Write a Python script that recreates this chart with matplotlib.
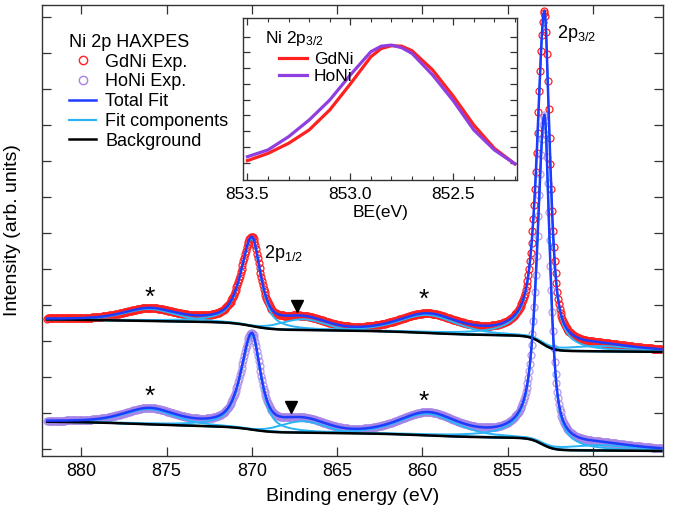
import numpy as np
import matplotlib
matplotlib.use("Agg")
import matplotlib.pyplot as plt
from matplotlib.lines import Line2D
from matplotlib.ticker import MultipleLocator, FormatStrFormatter

plt.rcParams['font.family'] = ['Liberation Sans', 'DejaVu Sans']
plt.rcParams['mathtext.fontset'] = 'custom'
plt.rcParams['mathtext.rm'] = 'Liberation Sans'
plt.rcParams['mathtext.it'] = 'Liberation Sans:italic'

# ---------------- data ----------------
# binding-energy grid of the measured spectra
be_first, be_last, be_step = 846.0, 882.0, 0.05

# fitted peak components
comp_center = [852.85, 859.7, 870.0, 876.0, 867.0, 849.5]
gd_amp = [9.20, 0.50, 2.43, 0.33, 0.30, 0.15]
ho_amp = [9.10, 0.60, 2.63, 0.42, 0.32, 0.15]
comp_whi = [0.50, 2.0, 0.75, 1.8, 1.5, 2.5]   # HWHM on high-BE side
comp_wlo = [0.38, 2.0, 0.60, 1.8, 1.5, 2.5]   # HWHM on low-BE side
comp_eta = [0.72, 0.5, 0.70, 0.5, 0.0, 0.8]   # Lorentzian fraction

# Shirley-like background steps
bg_step_pos = [853.0, 859.7, 870.0, 876.0]
bg_step_w = [0.35, 1.5, 0.6, 2.0]
gd_bg_base, gd_bg_slope = 2.70, 0.004
gd_bg_steps = [0.42, 0.10, 0.20, 0.04]
ho_bg_base, ho_bg_slope = -0.05, 0.003
ho_bg_steps = [0.34, 0.10, 0.15, 0.12]

# inset: normalised Ni 2p3/2 peaks
inset_be = [853.5, 853.4, 853.3, 853.2, 853.1, 853.0, 852.9, 852.85, 852.8,
            852.75, 852.7, 852.6, 852.5, 852.4, 852.3, 852.2]
inset_gd = [0.213, 0.259, 0.323, 0.408, 0.535, 0.700, 0.873, 0.925, 0.943,
            0.940, 0.911, 0.789, 0.623, 0.439, 0.291, 0.192]
inset_ho = [0.238, 0.281, 0.365, 0.471, 0.598, 0.757, 0.905, 0.940, 0.947,
            0.930, 0.894, 0.757, 0.594, 0.408, 0.281, 0.192]

star_be = [876.0, 859.9]
star_gd_y = [4.19, 4.14]
star_ho_y = [1.44, 1.31]
tri_be = [867.36, 867.7]
tri_y = [3.97, 1.18]

# ---------------- model evaluation ----------------
be = np.arange(be_first, be_last + be_step / 2, be_step)


def component(x, c, a, whi, wlo, eta):
    w = np.where(x > c, whi, wlo)
    u = (x - c) / w
    lor = 1.0 / (1.0 + u ** 2)
    gau = np.exp(-np.log(2) * u ** 2)
    return a * (eta * lor + (1 - eta) * gau)


def background(x, base, slope, steps):
    y = base + slope * (x - be_first)
    for p, w, s in zip(bg_step_pos, bg_step_w, steps):
        y = y + s / (1 + np.exp(-(x - p) / w))
    return y


def spectrum(amps, base, slope, steps):
    bg = background(be, base, slope, steps)
    comps = [component(be, c, a, wh, wl, e) for c, a, wh, wl, e in
             zip(comp_center, amps, comp_whi, comp_wlo, comp_eta)]
    total = bg + np.sum(comps, axis=0)
    return bg, comps, total


gd_bg, gd_comps, gd_total = spectrum(gd_amp, gd_bg_base, gd_bg_slope, gd_bg_steps)
ho_bg, ho_comps, ho_total = spectrum(ho_amp, ho_bg_base, ho_bg_slope, ho_bg_steps)

# ---------------- plotting ----------------
RED = '#ff2020'
PURPLE_PT = '#a683e6'
BLUE = '#1d3cff'
LBLUE = '#2ab4f5'
INS_PURPLE = '#8f3fe0'

W, H = 678, 512
fig = plt.figure(figsize=(W / 100, H / 100), dpi=100)
ax = fig.add_axes([42 / W, 1 - 456 / H, (663 - 42) / W, (456 - 5) / H])

ax.plot(be, gd_total, 'o', ms=5, mfc='none', mec=RED, mew=0.9, zorder=2)
ax.plot(be, ho_total, 'o', ms=5, mfc='none', mec=PURPLE_PT, mew=0.9, alpha=0.8, zorder=2)

for bg, comps, total in [(gd_bg, gd_comps, gd_total), (ho_bg, ho_comps, ho_total)]:
    for c in comps:
        ax.plot(be, bg + c, color=LBLUE, lw=1.4, zorder=3)
    ax.plot(be, bg, color='black', lw=1.8, zorder=4)
    ax.plot(be, total, color=BLUE, lw=1.8, zorder=5)

for x, y in zip(star_be, star_gd_y):
    ax.text(x, y, '*', fontsize=19, ha='center', va='center', zorder=6)
for x, y in zip(star_be, star_ho_y):
    ax.text(x, y, '*', fontsize=19, ha='center', va='center', zorder=6)
ax.plot(tri_be, tri_y, 'v', color='black', ms=8, ls='none', zorder=6)

ax.text(869.3, 5.44, '2p$_{1/2}$', fontsize=13, ha='left', va='center')
ax.text(852.1, 11.55, '2p$_{3/2}$', fontsize=13, ha='left', va='center')

ax.set_xlim(882.3, 845.9)
ax.set_ylim(-0.19, 12.33)
ax.set_xticks([880, 875, 870, 865, 860, 855, 850])
ax.set_yticks(np.arange(0, 13, 1))
ax.set_yticklabels([])
ax.tick_params(direction='in', top=True, right=True, length=6.5, width=0.9,
               labelsize=13, pad=5, color='#333333')
for s in ax.spines.values():
    s.set_linewidth(1.0)
    s.set_color('#333333')
ax.set_xlabel('Binding energy (eV)', fontsize=14, labelpad=6)
ax.set_ylabel('Intensity (arb. units)', fontsize=14, labelpad=10)

handles = [Line2D([], [], ls='none', marker='o', ms=6, mfc='none', mec=RED, mew=1.0),
           Line2D([], [], ls='none', marker='o', ms=6, mfc='none', mec=PURPLE_PT, mew=1.0),
           Line2D([], [], color=BLUE, lw=1.8),
           Line2D([], [], color=LBLUE, lw=1.6),
           Line2D([], [], color='black', lw=1.8)]
labels = ['GdNi Exp.', 'HoNi Exp.', 'Total Fit', 'Fit components', 'Background']
leg = ax.legend(handles, labels, title='Ni 2p HAXPES', title_fontsize=13, fontsize=13,
                loc='upper left', bbox_to_anchor=(69 / W, 1 - 34 / H),
                bbox_transform=fig.transFigure, frameon=False, borderpad=0,
                borderaxespad=0, handlelength=1.5, handletextpad=0.5,
                labelspacing=0.15, alignment='left')

# ---------------- inset ----------------
ins = fig.add_axes([243.3 / W, 1 - 180 / H, (517 - 243.3) / W, (180 - 18) / H])
ins.plot(inset_be, inset_gd, color=RED, lw=2.3, label='GdNi')
ins.plot(inset_be, inset_ho, color=INS_PURPLE, lw=2.3, label='HoNi')
ins.set_xlim(853.52, 852.19)
ins.set_ylim(0.09, 1.119)
ins.xaxis.set_major_locator(MultipleLocator(0.5))
ins.xaxis.set_minor_locator(MultipleLocator(0.1))
ins.xaxis.set_major_formatter(FormatStrFormatter('%.1f'))
ins.set_yticks(np.arange(0.2, 1.05, 0.1))
ins.set_yticklabels([])
ins.tick_params(which='major', direction='in', top=True, right=True, length=5,
                width=0.9, labelsize=12.5, pad=5, color='#333333')
ins.tick_params(which='minor', direction='in', top=True, right=True, length=3,
                width=0.8, color='#333333')
for s in ins.spines.values():
    s.set_linewidth(1.0)
    s.set_color('#333333')
ins.set_xlabel('BE(eV)', fontsize=12.5, labelpad=2)
fig.text(265 / W, 1 - 38 / H, 'Ni 2p$_{3/2}$', fontsize=12.5, ha='left', va='center')
ins.legend(loc='upper left', bbox_to_anchor=(279 / W, 1 - 52 / H),
           bbox_transform=fig.transFigure, frameon=False, borderpad=0,
           borderaxespad=0, fontsize=12.5, handlelength=1.6, handletextpad=0.4,
           labelspacing=0.1)

fig.savefig('out.png', dpi=100)
